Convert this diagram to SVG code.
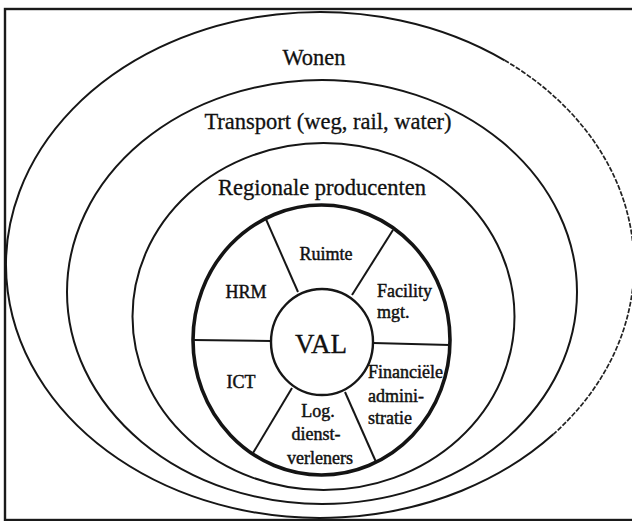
<svg xmlns="http://www.w3.org/2000/svg" width="632" height="521" viewBox="0 0 632 521">
  <style>
    .ring { fill: none; stroke: #161616; stroke-width: 2; }
    .broken { fill: none; stroke: #222; stroke-width: 1.7; stroke-dasharray: 5 1.6; }
    .wheel { fill: none; stroke: #141414; stroke-width: 3.6; }
    .hub { fill: #fff; stroke: #161616; stroke-width: 2.4; }
    .spoke { stroke: #161616; stroke-width: 2; fill: none; }
    .big { font-family: "Liberation Serif", "Times New Roman", serif; font-size: 22.5px; fill: #111; stroke: #111; stroke-width: 0.3; text-anchor: middle; }
    .lbl { font-family: "Liberation Serif", "Times New Roman", serif; font-size: 18px; fill: #111; stroke: #111; stroke-width: 0.45; }
    .mid { text-anchor: middle; }
    .hubtxt { font-family: "Liberation Serif", "Times New Roman", serif; font-size: 27px; fill: #111; stroke: #111; stroke-width: 0.35; text-anchor: middle; }
  </style>

  <rect x="0" y="0" width="632" height="521" fill="#fff"/>

  <!-- outer frame (right edge runs past the page) -->
  <rect x="5" y="9" width="640" height="511" fill="none" stroke="#1a1a1a" stroke-width="2.4"/>

  <!-- ring 1: housing -->
  <g id="wonen">
    <path class="ring" d="M 553.3 434.3 A 314 253 0 1 1 504.6 60.3"/>
    <path class="broken" d="M 504.6 60.3 A 314 253 0 0 1 553.3 434.3"/>
    <text class="big" x="314" y="65">Wonen</text>
  </g>

  <!-- ring 2: transport -->
  <g id="transport">
    <ellipse class="ring" cx="322" cy="292" rx="255" ry="212"/>
    <text class="big" x="328" y="129">Transport (weg, rail, water)</text>
  </g>

  <!-- ring 3: regional producers -->
  <g id="regionale-producenten">
    <ellipse class="ring" cx="323.5" cy="316.5" rx="191" ry="173.5"/>
    <text class="big" x="322" y="195">Regionale producenten</text>
  </g>

  <!-- service wheel -->
  <g id="dienstenwiel">
    <ellipse class="wheel" cx="321.5" cy="340" rx="128.5" ry="135"/>
  </g>

  <!-- spokes dividing the wheel into six sectors -->
  <g id="connectors">
    <line class="spoke" x1="265" y1="217" x2="298" y2="292"/>
    <line class="spoke" x1="393" y1="230" x2="352" y2="295"/>
    <line class="spoke" x1="193" y1="340" x2="271" y2="341"/>
    <line class="spoke" x1="373" y1="343" x2="450" y2="345"/>
    <line class="spoke" x1="292" y1="388" x2="253" y2="453"/>
    <line class="spoke" x1="345" y1="392" x2="376" y2="462"/>
  </g>

  <g id="ruimte">
    <text class="lbl mid" x="326" y="260">Ruimte</text>
  </g>
  <g id="hrm">
    <text class="lbl mid" x="246" y="298">HRM</text>
  </g>
  <g id="facility">
    <text class="lbl" x="377" y="297">Facility</text>
    <text class="lbl" x="377" y="318">mgt.</text>
  </g>
  <g id="ict">
    <text class="lbl mid" x="241" y="388">ICT</text>
  </g>
  <g id="financiele">
    <text class="lbl" x="368" y="378">Financiële</text>
    <text class="lbl" x="368" y="402">admini-</text>
    <text class="lbl" x="368" y="424">stratie</text>
  </g>
  <g id="logistiek">
    <text class="lbl mid" x="318" y="417">Log.</text>
    <text class="lbl mid" x="316" y="440">dienst-</text>
    <text class="lbl mid" x="320" y="464">verleners</text>
  </g>

  <!-- hub -->
  <g id="val">
    <ellipse class="hub" cx="322" cy="342" rx="51" ry="53"/>
    <text class="hubtxt" x="321" y="353">VAL</text>
  </g>
</svg>
